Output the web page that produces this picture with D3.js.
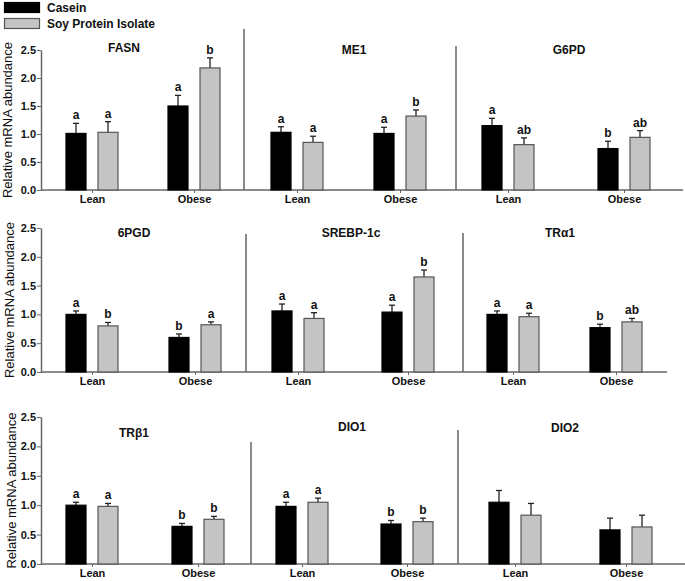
<!DOCTYPE html>
<html><head><meta charset="utf-8">
<script src="https://cdn.jsdelivr.net/npm/d3@7"></script>
<style>body{margin:0;background:#fff}svg{display:block}text{font-family:"Liberation Sans",Arial,sans-serif}</style>
</head><body><svg id="c" width="685" height="581"></svg>
<script>
// ---- data ----
const series = ["Casein", "Soy Protein Isolate"];
const groups = ["Lean", "Obese"];
const genes = ["FASN", "ME1", "G6PD", "6PGD", "SREBP-1c", "TRα1", "TRβ1", "DIO1", "DIO2"];
const yTicks = [0, 0.5, 1.0, 1.5, 2.0, 2.5];
// values: [Lean Casein, Lean Soy, Obese Casein, Obese Soy]
const caseinMean = [[1.01, 1.50], [1.03, 1.01], [1.15, 0.74], [1.00, 0.60], [1.06, 1.04], [1.00, 0.77], [1.00, 0.64], [0.98, 0.68], [1.05, 0.58]];
const caseinErr  = [[0.18, 0.19], [0.10, 0.11], [0.13, 0.13], [0.06, 0.06], [0.12, 0.12], [0.06, 0.06], [0.05, 0.05], [0.07, 0.06], [0.20, 0.20]];
const soyMean    = [[1.03, 2.18], [0.85, 1.32], [0.81, 0.94], [0.80, 0.82], [0.93, 1.65], [0.96, 0.87], [0.98, 0.76], [1.05, 0.72], [0.83, 0.63]];
const soyErr     = [[0.19, 0.18], [0.11, 0.11], [0.12, 0.12], [0.06, 0.05], [0.10, 0.12], [0.06, 0.06], [0.05, 0.05], [0.07, 0.06], [0.20, 0.20]];
const caseinSig  = [["a", "a"], ["a", "a"], ["a", "b"], ["a", "b"], ["a", "a"], ["a", "b"], ["a", "b"], ["a", "b"], ["", ""]];
const soySig     = [["a", "b"], ["a", "b"], ["ab", "ab"], ["b", "a"], ["a", "b"], ["a", "ab"], ["a", "b"], ["a", "b"], ["", ""]];

// ---- layout ----
const svg = d3.select("#c");
const rows = [
  {y: [190, 50], axisEnd: 683, centers: [[92, 194], [297, 400], [508, 624]], divs: [[244, 29], [456, 46]], titleY: [48, 50, 50]},
  {y: [372, 228], axisEnd: 667, centers: [[92, 195], [298, 408], [513, 616]], divs: [[246, 234], [463, 233]], titleY: [233, 233, 233]},
  {y: [564, 417], axisEnd: 685, centers: [[92, 198], [302, 407], [515, 626]], divs: [[251, 442], [458, 430]], titleY: [433, 427, 428]}
];
const titleX = [[124, 354, 569], [134, 351, 560], [134, 352, 565]];
const axisX = 41, barW = 20, half = 16;
const fills = ["#000000", "#c4c4c4"];
const strokes = ["#000000", "#555555"];

rows.forEach((row, r) => {
  const y = d3.scaleLinear().domain([0, 2.5]).range(row.y);
  const g = svg.append("g");
  // y axis
  const ya = g.append("g").attr("transform", `translate(${axisX},0)`)
    .call(d3.axisLeft(y).tickValues(yTicks).tickFormat(d3.format(".1f")).tickSize(4).tickSizeOuter(0));
  ya.select(".domain").attr("stroke", "#666").attr("stroke-width", 1.5);
  ya.selectAll(".tick line").attr("stroke", "#666");
  ya.selectAll(".tick text").attr("font-size", 11).attr("font-weight", "bold").attr("fill", "#111").attr("font-family", "Liberation Sans, Arial, sans-serif").attr("x", -5);
  // y title
  g.append("text").attr("transform", `translate(${7 + r * 2},${(row.y[0] + row.y[1]) / 2}) rotate(-90)`)
    .attr("text-anchor", "middle").attr("dominant-baseline", "central").attr("font-size", 13).attr("fill", "#111")
    .text("Relative mRNA abundance");
  // baseline
  g.append("line").attr("x1", axisX).attr("x2", row.axisEnd).attr("y1", y(0)).attr("y2", y(0))
    .attr("stroke", "#666").attr("stroke-width", 1.5);
  // dividers
  row.divs.forEach(([dx, top]) => {
    g.append("line").attr("x1", dx).attr("x2", dx).attr("y1", top).attr("y2", y(0)).attr("stroke", "#666").attr("stroke-width", 1.5);
  });
  // panels
  for (let p = 0; p < 3; p++) {
    const gi = r * 3 + p;
    const x = d3.scalePoint().domain(groups).range(row.centers[p]);
    const xs = d3.scalePoint().domain(series).range([-half, half]);
    const pg = g.append("g");
    pg.append("text").attr("x", titleX[r][p]).attr("y", row.titleY[p]).attr("text-anchor", "middle")
      .attr("dominant-baseline", "central").attr("font-size", 12).attr("font-weight", "bold").attr("fill", "#111").text(genes[gi]);
    // x ticks and labels
    const xa = pg.append("g").attr("transform", `translate(0,${y(0)})`)
      .call(d3.axisBottom(x).tickSize(3).tickSizeOuter(0));
    xa.select(".domain").remove();
    xa.selectAll(".tick line").attr("stroke", "#666");
    xa.selectAll(".tick text").attr("font-size", 11).attr("font-weight", "bold").attr("fill", "#111")
      .attr("font-family", "Liberation Sans, Arial, sans-serif").attr("y", 5);
    const data = [];
    groups.forEach((grp, gj) => {
      data.push({grp, s: 0, m: caseinMean[gi][gj], e: caseinErr[gi][gj], sig: caseinSig[gi][gj]});
      data.push({grp, s: 1, m: soyMean[gi][gj], e: soyErr[gi][gj], sig: soySig[gi][gj]});
    });
    data.forEach(d => {
      const cx = x(d.grp) + xs(series[d.s]);
      // error bar
      pg.append("line").attr("x1", cx).attr("x2", cx).attr("y1", y(d.m)).attr("y2", y(d.m + d.e)).attr("stroke", "#222").attr("stroke-width", 1.3);
      pg.append("line").attr("x1", cx - 3).attr("x2", cx + 3).attr("y1", y(d.m + d.e)).attr("y2", y(d.m + d.e)).attr("stroke", "#222").attr("stroke-width", 1.3);
      pg.append("rect").attr("x", cx - barW / 2).attr("width", barW).attr("y", y(d.m)).attr("height", y(0) - y(d.m))
        .attr("fill", fills[d.s]).attr("stroke", strokes[d.s]).attr("stroke-width", 1.2);
      if (d.sig) pg.append("text").attr("x", cx).attr("y", y(d.m + d.e) - 4).attr("text-anchor", "middle")
        .attr("font-size", 12).attr("font-weight", "bold").attr("fill", "#111").text(d.sig);
    });
  }
});
// legend
const lg = svg.append("g");
series.forEach((s, i) => {
  lg.append("rect").attr("x", 4.5).attr("y", 2.5 + i * 16).attr("width", 35).attr("height", 10)
    .attr("fill", fills[i]).attr("stroke", strokes[i]).attr("stroke-width", 1.2);
  lg.append("text").attr("x", 47).attr("y", 7.5 + i * 16).attr("dominant-baseline", "central")
    .attr("font-size", 12).attr("font-weight", "bold").attr("fill", "#111").text(s);
});
</script></body></html>
